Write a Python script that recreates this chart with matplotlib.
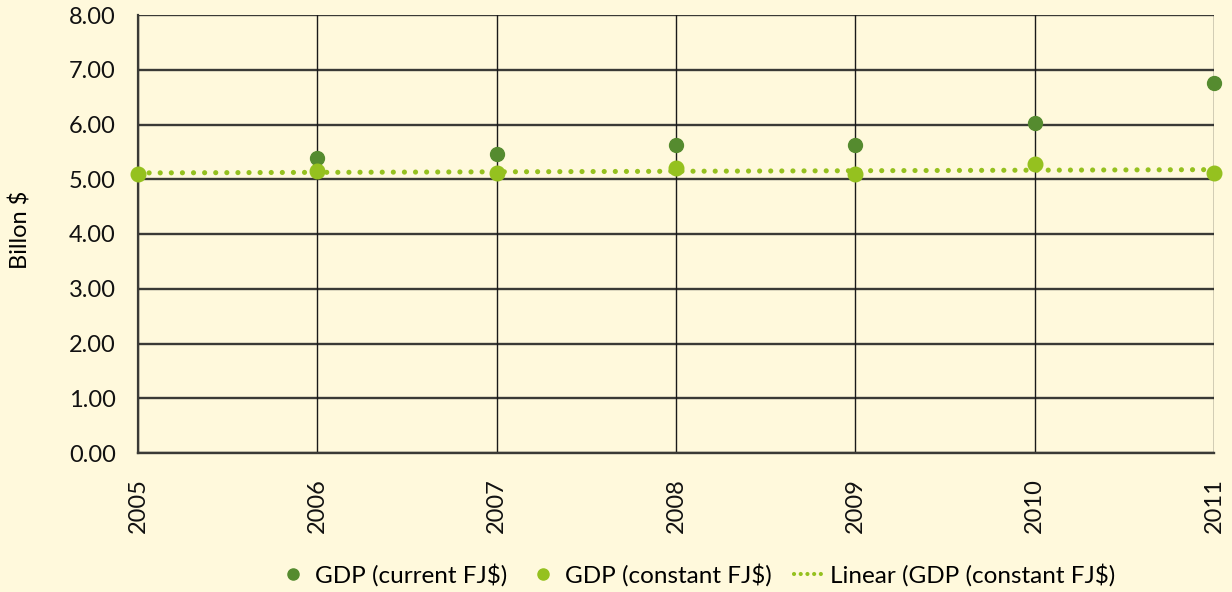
import matplotlib
matplotlib.use("Agg")
import matplotlib.pyplot as plt
import numpy as np
from matplotlib.lines import Line2D

years = [2005, 2006, 2007, 2008, 2009, 2010, 2011]
gdp_current = [None, 5.38, 5.47, 5.62, 5.62, 6.02, 6.75]
gdp_constant = [5.09, 5.15, 5.11, 5.20, 5.09, 5.27, 5.11]
y_ticks = [0, 1, 2, 3, 4, 5, 6, 7, 8]

bg = "#FFF9DC"
dark = "#558B2F"
light = "#95C11F"
gridc = "#3A3A36"

plt.rcParams['font.family'] = ['Lato', 'DejaVu Sans']

fig = plt.figure(figsize=(12.32, 5.92), dpi=100, facecolor=bg)
ax = fig.add_axes([138/1232, 1-453/592, (1214-138)/1232, (453-15)/592])
ax.set_facecolor(bg)

x = np.arange(len(years))
cx = [xi for xi, v in zip(x, gdp_current) if v is not None]
cy = [v for v in gdp_current if v is not None]

# trend
coef = np.polyfit(x, gdp_constant, 1)
ax.plot(x, np.polyval(coef, x), color=light, lw=3.7, linestyle=(0, (0.01, 2.15)),
        dash_capstyle='round', zorder=3, clip_on=False)
ax.plot(cx, cy, 'o', color=dark, ms=10, zorder=4, clip_on=False)
ax.plot(x, gdp_constant, 'o', color=light, ms=10.5, zorder=5, clip_on=False)

ax.set_xlim(0, len(years)-1)
ax.set_ylim(0, 8)
ax.set_yticks(y_ticks)
ax.set_yticklabels([f"{v:.2f}" for v in y_ticks], fontsize=17)
ax.set_xticks(x)
ax.set_xticklabels([str(y) for y in years], rotation=90, fontsize=17)
ax.tick_params(axis='both', length=0, colors='#111111')
ax.tick_params(axis='y', pad=16)
ax.tick_params(axis='x', pad=18)

for v in y_ticks:
    ax.axhline(v, color=gridc, lw=1.7, zorder=1)
for xi in x:
    ax.axvline(xi, color='#1A1A1A', lw=1.0, zorder=1)
for s in ['top', 'right']:
    ax.spines[s].set_visible(False)
ax.spines['left'].set_color(gridc)
ax.spines['left'].set_linewidth(1.6)
ax.spines['bottom'].set_color(gridc)
ax.spines['bottom'].set_linewidth(1.7)

fig.text(21/1232, 1-230/592, "Billon $", rotation=90, fontsize=17, ha='center', va='center')

handles = [
    Line2D([], [], marker='o', color=dark, ls='none', ms=8),
    Line2D([], [], marker='o', color=light, ls='none', ms=8),
    Line2D([], [], color=light, lw=3.0, linestyle=(0, (0.01, 1.6)), dash_capstyle='round'),
]
labels = ["GDP (current FJ$)", "GDP (constant FJ$)", "Linear (GDP (constant FJ$)"]
fig.legend(handles, labels, loc='center', bbox_to_anchor=(697/1232, 1-575/592), ncol=3,
           frameon=False, fontsize=17.5, handlelength=1.2, handletextpad=0.3, columnspacing=0.9)

fig.savefig("out.png", dpi=100, facecolor=bg)
